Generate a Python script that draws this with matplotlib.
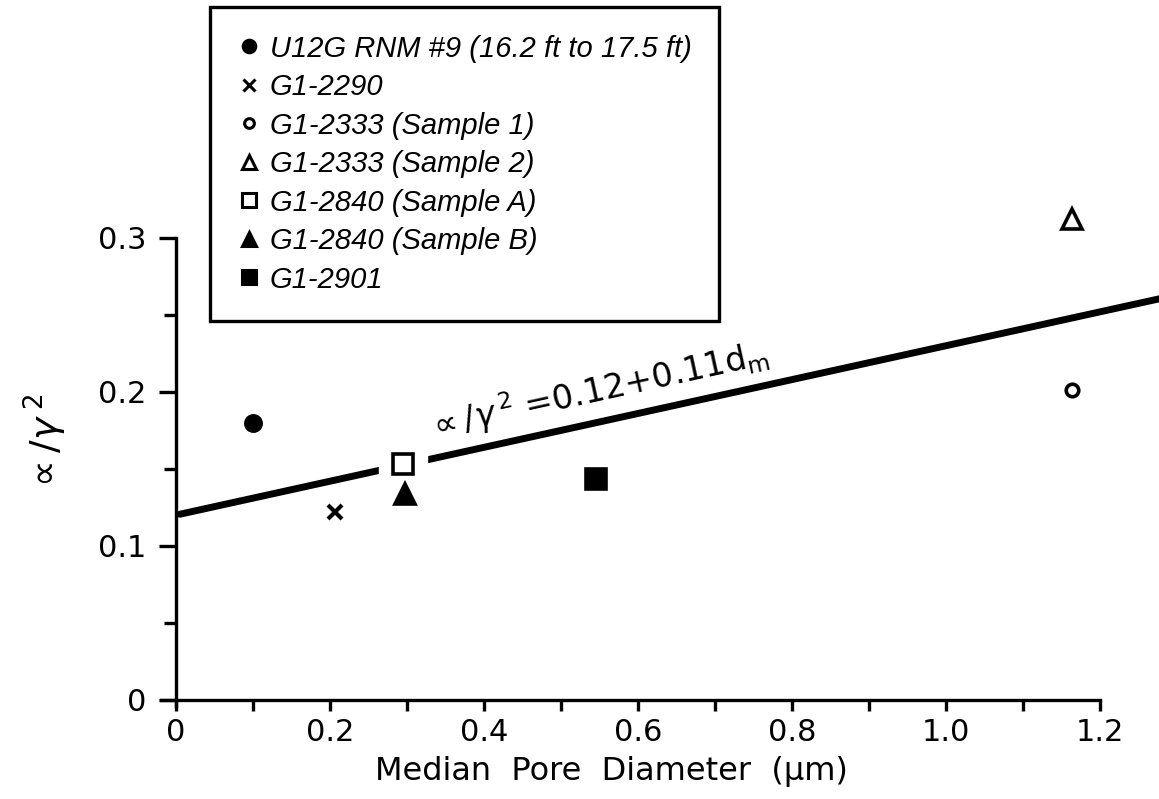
import matplotlib

matplotlib.use("Agg")
import matplotlib.pyplot as plt
from matplotlib.lines import Line2D

# Data
labels = [
    "U12G RNM #9 (16.2 ft to 17.5 ft)",
    "G1-2290",
    "G1-2333 (Sample 1)",
    "G1-2333 (Sample 2)",
    "G1-2840 (Sample A)",
    "G1-2840 (Sample B)",
    "G1-2901",
]
diameter = [0.10, 0.207, 1.163, 1.163, 0.295, 0.297, 0.545]
ratio = [0.180, 0.122, 0.201, 0.312, 0.153, 0.134, 0.1435]
markers = ["o", "x", "o", "^", "s", "^", "s"]
filled = [True, True, False, False, False, True, True]

fit_intercept = 0.12
fit_slope = 0.11
fit_x = [0.005, 1.3]

x_ticks = [0, 0.2, 0.4, 0.6, 0.8, 1.0, 1.2]
x_tick_labels = ["0", "0.2", "0.4", "0.6", "0.8", "1.0", "1.2"]
x_minor = [0.1, 0.3, 0.5, 0.7, 0.9, 1.1]
y_ticks = [0, 0.1, 0.2, 0.3]
y_tick_labels = ["0", "0.1", "0.2", "0.3"]
y_minor = [0.05, 0.15, 0.25]

plt.rcParams["mathtext.fontset"] = "dejavusans"
plt.rcParams["font.family"] = "DejaVu Sans"

W, H = 1159, 799
fig = plt.figure(figsize=(W / 100, H / 100), dpi=100)
ax = fig.add_axes([160.6 / W, 93 / H, 998.7 / W, 699 / H])
ax.set_xlim(-0.02, 1.277)
ax.set_ylim(-0.004, 0.45)

for side in ["top", "right"]:
    ax.spines[side].set_visible(False)
ax.spines["left"].set_position(("data", 0))
ax.spines["bottom"].set_position(("data", 0))
ax.spines["left"].set_bounds(-0.004, 0.3)
ax.spines["bottom"].set_bounds(-0.02, 1.2)
for side in ["left", "bottom"]:
    ax.spines[side].set_linewidth(2.4)

ax.set_xticks(x_ticks)
ax.set_xticklabels(x_tick_labels)
ax.set_xticks(x_minor, minor=True)
ax.set_yticks(y_ticks)
ax.set_yticklabels(y_tick_labels)
ax.set_yticks(y_minor, minor=True)
ax.tick_params(which="both", direction="out", width=2.4, labelsize=22)
ax.tick_params(axis="y", which="major", length=12, pad=9)
ax.tick_params(axis="y", which="minor", length=9)
ax.tick_params(axis="x", which="both", length=8, pad=5)

# regression line, broken around the open square
fit_y = [fit_intercept + fit_slope * x for x in fit_x]
ax.plot(fit_x, fit_y, color="black", linewidth=5, solid_capstyle="round",
        clip_on=False, zorder=2)
ax.plot(diameter[4], ratio[4], marker="s", markersize=34, color="white",
        linestyle="none", zorder=3)

for x, y, m, f in zip(diameter, ratio, markers, filled):
    size = {"o": 11 if f else 9, "x": 10, "^": 14, "s": 14}[m]
    ax.plot(x, y, marker=m, markersize=size, linestyle="none",
            markerfacecolor="black" if f else "white",
            markeredgecolor="black", markeredgewidth=3 if m == "x" else 2.6,
            clip_on=False, zorder=4)

ax.text(0.548, 0.201, r"$\propto/\gamma^{\,2}$ =0.12+0.11d$_{\rm m}$",
        rotation=12.4, ha="center", va="center", fontsize=24)

ax.set_xlabel("Median  Pore  Diameter  (\u03bcm)", fontsize=23)
ax.xaxis.set_label_coords(0.451, -0.072)
ax.set_ylabel(r"$\propto/\gamma^{\;2}$", fontsize=27, va="center")
ax.yaxis.set_label_coords(-0.115, 0.375)

handles = []
for m, f in zip(markers, filled):
    size = {"o": 9 if f else 7, "x": 8, "^": 10, "s": 10}[m]
    handles.append(Line2D([], [], marker=m, markersize=size, linestyle="none",
                          markerfacecolor="black" if f else "white",
                          markeredgecolor="black", markeredgewidth=2.2))
leg = fig.legend(handles, labels, loc="upper left",
                 bbox_to_anchor=(210 / W, 1 - 7 / H), fancybox=False,
                 edgecolor="black", framealpha=1, borderaxespad=0,
                 handlelength=0.8, handletextpad=0.3, labelspacing=0.36,
                 borderpad=0.95,
                 prop={"family": "Liberation Sans", "size": 21,
                       "style": "italic"})
leg.get_frame().set_linewidth(2.4)

plt.savefig("out.png", dpi=100)
